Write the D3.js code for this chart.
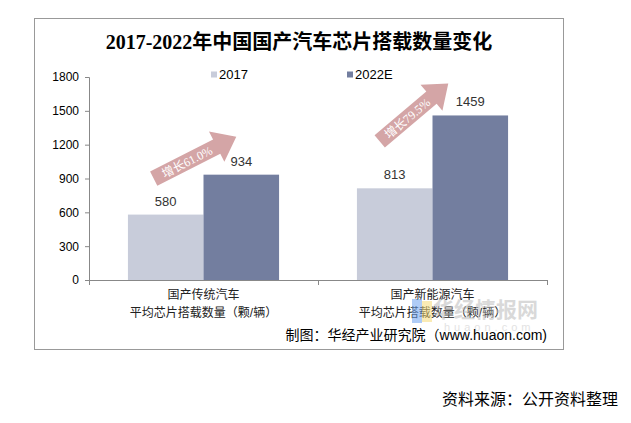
<!DOCTYPE html>
<html>
<head>
<meta charset="utf-8">
<script src="https://cdn.jsdelivr.net/npm/d3@7"></script>
<style>
  body { margin: 0; background: #fff; }
  text { font-family: Arial, "Liberation Sans", "Noto Sans CJK SC", sans-serif; }
</style>
</head>
<body>
<script>
var categories = [
	["国产传统汽车", "平均芯片搭载数量（颗/辆）"],
	["国产新能源汽车", "平均芯片搭载数量（颗/辆）"]
];
var seriesNames = ["2017", "2022E"];
var values2017 = [580, 813];
var values2022 = [934, 1459];
var growthLabels = ["增长61.0%", "增长79.5%"];
var yTicks = [0, 300, 600, 900, 1200, 1500, 1800];

var title = "2017-2022年中国国产汽车芯片搭载数量变化";
var credit = "制图：华经产业研究院（www.huaon.com)";
var source = "资料来源：公开资料整理";

var width = 631,
	height = 423;

var colors = ["#c8ccda", "#737e9f"];
var arrowColor = "#d4a5a6";

var svg = d3.select("body").append("svg")
	.attr("width", width)
	.attr("height", height);

// outer frame
svg.append("rect")
	.attr("x", 34.5).attr("y", 18.5)
	.attr("width", 529).attr("height", 331)
	.attr("fill", "none")
	.attr("stroke", "#999");

svg.append("text")
	.attr("x", 299).attr("y", 49)
	.attr("text-anchor", "middle")
	.style("font-family", "'Liberation Serif', 'Noto Sans CJK SC', serif")
	.style("font-size", "20px")
	.style("font-weight", "bold")
	.attr("fill", "#000")
	.text(title);

var x0 = d3.scaleBand()
	.domain(d3.range(categories.length))
	.range([89, 547]);

var x1 = d3.scaleBand()
	.domain(seriesNames)
	.range([x0.bandwidth() * 0.17, x0.bandwidth() * 0.83]);

var y = d3.scaleLinear()
	.domain([0, 1800])
	.range([280, 77]);

// y axis
var yAxis = svg.append("g")
	.attr("transform", "translate(89,0)")
	.call(d3.axisLeft(y).tickValues(yTicks).tickFormat(d3.format("d")).tickSize(4).tickPadding(6));
yAxis.select(".domain").attr("stroke", "#888");
yAxis.selectAll(".tick line").attr("stroke", "#888");
yAxis.selectAll(".tick text")
	.style("font-size", "12px")
	.attr("fill", "#000");

// x axis line + ticks at band edges
svg.append("line")
	.attr("x1", 89).attr("x2", 547)
	.attr("y1", 280.5).attr("y2", 280.5)
	.attr("stroke", "#888");
svg.selectAll(".xtick")
	.data(d3.range(categories.length + 1))
	.enter().append("line")
	.attr("class", "xtick")
	.attr("x1", function(d) { return Math.round(89 + d * x0.bandwidth()) + 0.5; })
	.attr("x2", function(d) { return Math.round(89 + d * x0.bandwidth()) + 0.5; })
	.attr("y1", 280).attr("y2", 285)
	.attr("stroke", "#888");

// bars
var groups = svg.selectAll(".group")
	.data(d3.range(categories.length))
	.enter().append("g")
	.attr("class", "group")
	.attr("transform", function(i) { return "translate(" + x0(i) + ",0)"; });

var barData = function(i) {
	return [
		{ s: seriesNames[0], v: values2017[i], c: 0 },
		{ s: seriesNames[1], v: values2022[i], c: 1 }
	];
};

groups.selectAll("rect")
	.data(barData)
	.enter().append("rect")
	.attr("x", function(d) { return x1(d.s); })
	.attr("y", function(d) { return y(d.v); })
	.attr("width", x1.bandwidth())
	.attr("height", function(d) { return y(0) - y(d.v); })
	.attr("fill", function(d) { return colors[d.c]; });

groups.selectAll(".val")
	.data(barData)
	.enter().append("text")
	.attr("class", "val")
	.attr("x", function(d) { return x1(d.s) + x1.bandwidth() / 2; })
	.attr("y", function(d) { return y(d.v) - 9; })
	.attr("text-anchor", "middle")
	.style("font-size", "13px")
	.attr("fill", "#333")
	.text(function(d) { return d.v; });

// watermark (drawn under the labels, as in the source image)
var wm = svg.append("g").attr("opacity", 0.55);
wm.append("rect").attr("x", 412).attr("y", 299).attr("width", 10).attr("height", 24).attr("fill", "#6fa3f0");
wm.append("rect").attr("x", 422).attr("y", 301).attr("width", 10).attr("height", 21).attr("fill", "#f7dc7a");
wm.append("text")
	.attr("x", 433).attr("y", 317)
	.style("font-size", "21px")
	.style("font-weight", "bold")
	.attr("fill", "#bbb")
	.text("华经情报网");
wm.append("text")
	.attr("x", 444).attr("y", 331)
	.style("font-size", "11px")
	.style("letter-spacing", "4px")
	.attr("fill", "#ccc")
	.text("huaon.com");

// category labels
groups.each(function(i) {
	var g = d3.select(this);
	categories[i].forEach(function(line, k) {
		g.append("text")
			.attr("x", x0.bandwidth() / 2)
			.attr("y", 299 + k * 18)
			.attr("text-anchor", "middle")
			.style("font-size", "12px")
			.attr("fill", "#222")
			.text(line);
	});
});

// legend
var legend = svg.selectAll(".legend")
	.data(seriesNames)
	.enter().append("g")
	.attr("class", "legend")
	.attr("transform", function(d, i) { return "translate(" + [211, 347][i] + ",0)"; });
legend.append("rect")
	.attr("x", 0).attr("y", 71.5)
	.attr("width", 6).attr("height", 6)
	.attr("fill", function(d, i) { return colors[i]; });
legend.append("text")
	.attr("x", 8).attr("y", 78.5)
	.style("font-size", "13px")
	.attr("fill", "#000")
	.text(function(d) { return d; });

// growth arrows, anchored to the bars they link
var arrowOffsets = [
	{ tail: [-12, -36], tip: [-5, -38] },
	{ tail: [-15, -47], tip: [-22, -32] }
];

groups.each(function(i) {
	var g = d3.select(this);
	var bw = x1.bandwidth();
	var tx = x1(seriesNames[0]) + bw / 2 + arrowOffsets[i].tail[0];
	var ty = y(values2017[i]) + arrowOffsets[i].tail[1];
	var hx = x1(seriesNames[1]) + bw / 2 + arrowOffsets[i].tip[0];
	var hy = y(values2022[i]) + arrowOffsets[i].tip[1];
	var L = Math.sqrt((hx - tx) * (hx - tx) + (hy - ty) * (hy - ty));
	var ang = Math.atan2(hy - ty, hx - tx) * 180 / Math.PI;
	var sw = 8, hw = 17, hl = 22;
	var pts = [[0, -sw], [L - hl, -sw], [L - hl, -hw], [L, 0], [L - hl, hw], [L - hl, sw], [0, sw]];

	var a = g.append("g")
		.attr("transform", "translate(" + tx + "," + ty + ") rotate(" + ang + ")");
	a.append("path")
		.attr("d", "M" + pts.join("L") + "Z")
		.attr("fill", arrowColor);
	a.append("text")
		.attr("x", (L - hl) / 2 + 2)
		.attr("y", 4.5)
		.attr("text-anchor", "middle")
		.style("font-family", "'Liberation Serif', 'Noto Sans CJK SC', serif")
		.style("font-size", "12px")
		.attr("fill", "#fff")
		.text(growthLabels[i]);
});

svg.append("text")
	.attr("x", 547).attr("y", 340)
	.attr("text-anchor", "end")
	.style("font-size", "14px")
	.attr("fill", "#000")
	.text(credit);

svg.append("text")
	.attr("x", 618).attr("y", 405)
	.attr("text-anchor", "end")
	.style("font-size", "16px")
	.attr("fill", "#000")
	.text(source);
</script>
</body>
</html>
